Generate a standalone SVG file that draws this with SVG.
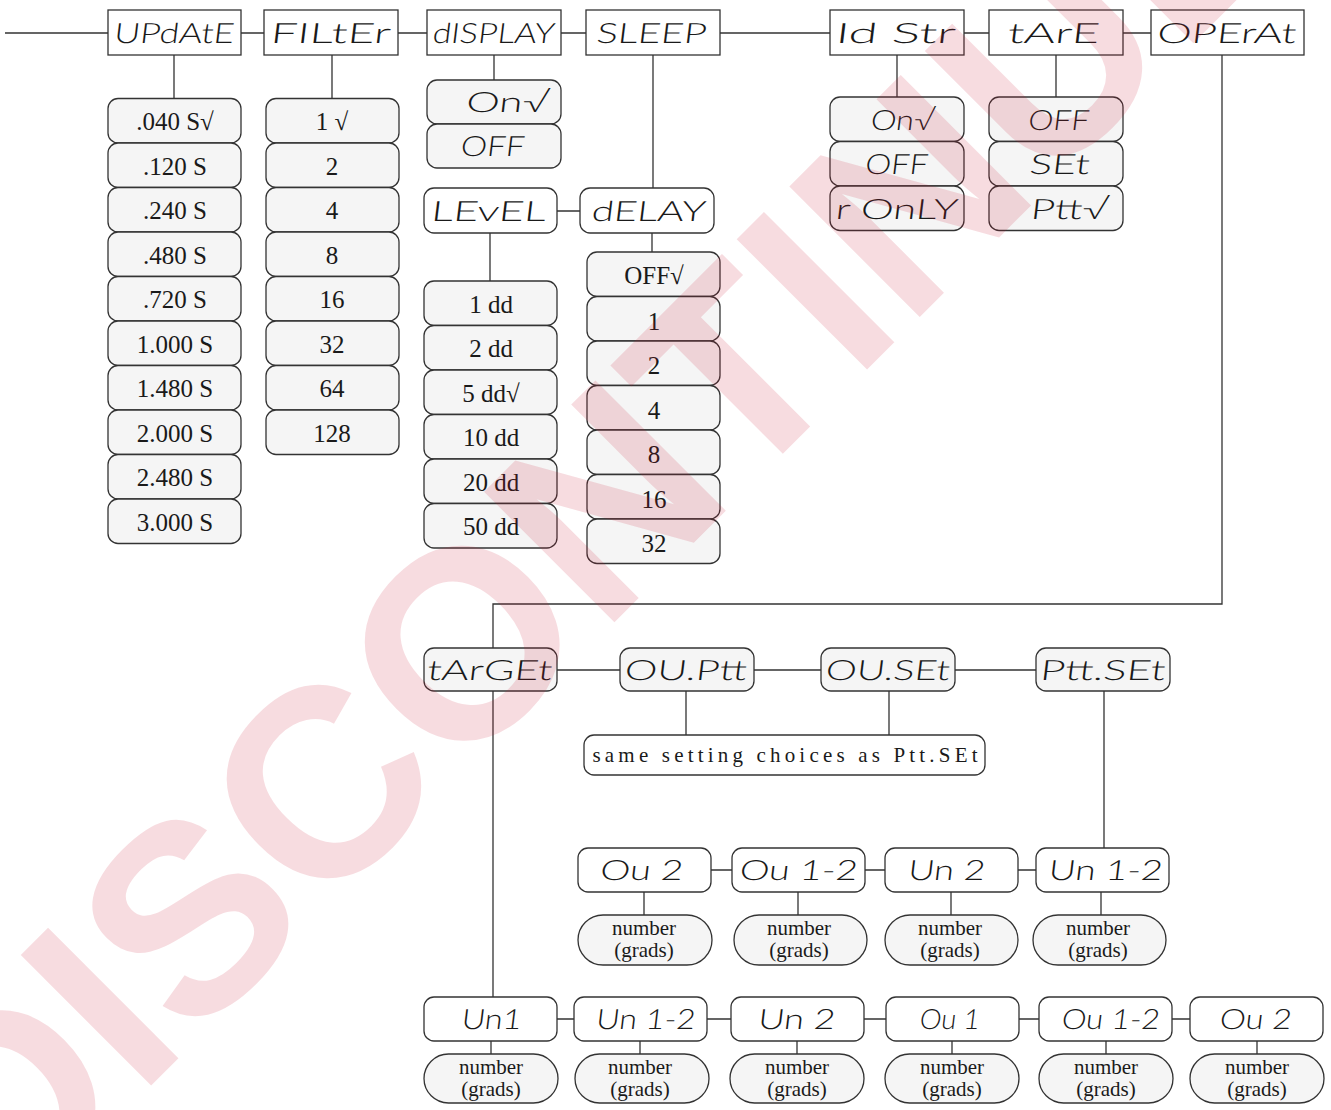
<svg xmlns="http://www.w3.org/2000/svg" width="1331" height="1110" viewBox="0 0 1331 1110">
<style>
.sq{fill:#fff;stroke:#333;stroke-width:1.3}
.w{fill:#fff;stroke:#333;stroke-width:1.3}
.g{fill:#f5f5f5;stroke:#333;stroke-width:1.3}
.c{fill:none;stroke:#333;stroke-width:1.3}
.s{font-family:Lato,"DejaVu Sans",sans-serif;font-weight:300;font-size:28px;fill:#1a1a1a;text-anchor:middle;transform-box:fill-box;transform-origin:center;transform:skewX(-7deg)}
.t{font-family:"Liberation Serif",serif;font-size:25px;fill:#1a1a1a;text-anchor:middle}
.n{font-family:"Liberation Serif",serif;font-size:21px;fill:#1a1a1a;text-anchor:middle}
.wm{font-family:"Liberation Sans",Arial,sans-serif;font-weight:bold;font-size:268px;fill:rgb(200,20,50);fill-opacity:0.15}
</style>
<g id="connectors">
<path class="c" d="M5 33H108M241 33H264M398 33H427M561 33H586M720 33H830M964 33H989M1123 33H1151"/>
<path class="c" d="M174 55V98.5M332 55V98.5M494 55V80M653 55V188M557 211H580M490 233V281M652 233V252M897 55V97M1056 55V97"/>
<path class="c" d="M1222 55V604H493V648M557 670H620M754 670H821M955 670H1036M686 691V735M889 691V735M1104 691V848M493 691V997"/>
<path class="c" d="M711 870H732M865 870H885M1018 870H1036M644 892V915M798 892V915M951 892V915M1101 892V915"/>
<path class="c" d="M557 1019H574M707 1019H731M864 1019H886M1019 1019H1039M1172 1019H1190M491 1041V1054M640 1041V1054M797 1041V1054M952 1041V1054M1106 1041V1054M1257 1041V1054"/>
</g>
<g id="top">
<g id="n-update"><rect class="sq" x="108" y="10" width="133" height="45"/><text class="s" x="174.5" y="43" textLength="120" lengthAdjust="spacingAndGlyphs">UPdAtE</text></g>
<g id="n-filter"><rect class="sq" x="264" y="10" width="134" height="45"/><text class="s" x="331" y="43" textLength="120" lengthAdjust="spacingAndGlyphs">FILtEr</text></g>
<g id="n-display"><rect class="sq" x="427" y="10" width="134" height="45"/><text class="s" x="494" y="43" textLength="122" lengthAdjust="spacingAndGlyphs">dISPLAY</text></g>
<g id="n-sleep"><rect class="sq" x="586" y="10" width="134" height="45"/><text class="s" x="652" y="43" textLength="110" lengthAdjust="spacingAndGlyphs">SLEEP</text></g>
<g id="n-idstr"><rect class="sq" x="830" y="10" width="134" height="45"/><text class="s" x="896" y="43" textLength="120" lengthAdjust="spacingAndGlyphs">Id Str</text></g>
<g id="n-tare"><rect class="sq" x="989" y="10" width="134" height="45"/><text class="s" x="1054" y="43" textLength="92" lengthAdjust="spacingAndGlyphs">tArE</text></g>
<g id="n-operat"><rect class="sq" x="1151" y="10" width="153" height="45"/><text class="s" x="1227" y="43" textLength="139" lengthAdjust="spacingAndGlyphs">OPErAt</text></g>
</g>
<g id="update-opts">
<rect class="g" x="108" y="98.5" width="133" height="44.5" rx="10"/><text class="t" x="175" y="130">.040 S√</text>
<rect class="g" x="108" y="143" width="133" height="44.5" rx="10"/><text class="t" x="175" y="175">.120 S</text>
<rect class="g" x="108" y="187.5" width="133" height="44.5" rx="10"/><text class="t" x="175" y="219">.240 S</text>
<rect class="g" x="108" y="232" width="133" height="44.5" rx="10"/><text class="t" x="175" y="264">.480 S</text>
<rect class="g" x="108" y="276.5" width="133" height="44.5" rx="10"/><text class="t" x="175" y="308">.720 S</text>
<rect class="g" x="108" y="321" width="133" height="44.5" rx="10"/><text class="t" x="175" y="353">1.000 S</text>
<rect class="g" x="108" y="365.5" width="133" height="44.5" rx="10"/><text class="t" x="175" y="397">1.480 S</text>
<rect class="g" x="108" y="410" width="133" height="44.5" rx="10"/><text class="t" x="175" y="442">2.000 S</text>
<rect class="g" x="108" y="454.5" width="133" height="44.5" rx="10"/><text class="t" x="175" y="486">2.480 S</text>
<rect class="g" x="108" y="499" width="133" height="44.5" rx="10"/><text class="t" x="175" y="531">3.000 S</text>
</g>
<g id="filter-opts">
<rect class="g" x="266" y="98.5" width="133" height="44.5" rx="10"/><text class="t" x="332" y="130">1 √</text>
<rect class="g" x="266" y="143" width="133" height="44.5" rx="10"/><text class="t" x="332" y="175">2</text>
<rect class="g" x="266" y="187.5" width="133" height="44.5" rx="10"/><text class="t" x="332" y="219">4</text>
<rect class="g" x="266" y="232" width="133" height="44.5" rx="10"/><text class="t" x="332" y="264">8</text>
<rect class="g" x="266" y="276.5" width="133" height="44.5" rx="10"/><text class="t" x="332" y="308">16</text>
<rect class="g" x="266" y="321" width="133" height="44.5" rx="10"/><text class="t" x="332" y="353">32</text>
<rect class="g" x="266" y="365.5" width="133" height="44.5" rx="10"/><text class="t" x="332" y="397">64</text>
<rect class="g" x="266" y="410" width="133" height="44.5" rx="10"/><text class="t" x="332" y="442">128</text>
</g>
<g id="display-opts">
<rect class="g" x="427" y="80" width="134" height="44" rx="10"/><text class="s" x="508" y="112" textLength="83" lengthAdjust="spacingAndGlyphs">On√</text>
<rect class="g" x="427" y="124" width="134" height="44" rx="10"/><text class="s" x="493" y="156" textLength="64" lengthAdjust="spacingAndGlyphs">OFF</text>
</g>
<g id="n-level"><rect class="w" x="424" y="188" width="133" height="45" rx="10"/><text class="s" x="489" y="221" textLength="115" lengthAdjust="spacingAndGlyphs">LEvEL</text></g>
<g id="n-delay"><rect class="w" x="580" y="188" width="134" height="45" rx="10"/><text class="s" x="649" y="221" textLength="114" lengthAdjust="spacingAndGlyphs">dELAY</text></g>
<g id="level-opts">
<rect class="g" x="424" y="281" width="133" height="44.5" rx="10"/><text class="t" x="491" y="313">1 dd</text>
<rect class="g" x="424" y="325.5" width="133" height="44.5" rx="10"/><text class="t" x="491" y="357">2 dd</text>
<rect class="g" x="424" y="370" width="133" height="44.5" rx="10"/><text class="t" x="491" y="402">5 dd√</text>
<rect class="g" x="424" y="414.5" width="133" height="44.5" rx="10"/><text class="t" x="491" y="446">10 dd</text>
<rect class="g" x="424" y="459" width="133" height="44.5" rx="10"/><text class="t" x="491" y="491">20 dd</text>
<rect class="g" x="424" y="503.5" width="133" height="44.5" rx="10"/><text class="t" x="491" y="535">50 dd</text>
</g>
<g id="delay-opts">
<rect class="g" x="587" y="252" width="133" height="44.5" rx="10"/><text class="t" x="654" y="284">OFF√</text>
<rect class="g" x="587" y="296.5" width="133" height="44.5" rx="10"/><text class="t" x="654" y="330">1</text>
<rect class="g" x="587" y="341" width="133" height="44.5" rx="10"/><text class="t" x="654" y="374">2</text>
<rect class="g" x="587" y="385.5" width="133" height="44.5" rx="10"/><text class="t" x="654" y="419">4</text>
<rect class="g" x="587" y="430" width="133" height="44.5" rx="10"/><text class="t" x="654" y="463">8</text>
<rect class="g" x="587" y="474.5" width="133" height="44.5" rx="10"/><text class="t" x="654" y="508">16</text>
<rect class="g" x="587" y="519" width="133" height="44.5" rx="10"/><text class="t" x="654" y="552">32</text>
</g>
<g id="idstr-opts">
<rect class="g" x="830" y="97" width="134" height="44.5" rx="10"/><text class="s" x="903" y="130" textLength="64" lengthAdjust="spacingAndGlyphs">On√</text>
<rect class="g" x="830" y="141.5" width="134" height="44.5" rx="10"/><text class="s" x="897" y="174" textLength="63" lengthAdjust="spacingAndGlyphs">OFF</text>
<rect class="g" x="830" y="186" width="134" height="44.5" rx="10"/><text class="s" x="897" y="219" textLength="122" lengthAdjust="spacingAndGlyphs">r OnLY</text>
</g>
<g id="tare-opts">
<rect class="g" x="989" y="97" width="134" height="44.5" rx="10"/><text class="s" x="1059" y="130" textLength="61" lengthAdjust="spacingAndGlyphs">OFF</text>
<rect class="g" x="989" y="141.5" width="134" height="44.5" rx="10"/><text class="s" x="1060" y="174" textLength="60" lengthAdjust="spacingAndGlyphs">SEt</text>
<rect class="g" x="989" y="186" width="134" height="44.5" rx="10"/><text class="s" x="1070" y="219" textLength="78" lengthAdjust="spacingAndGlyphs">Ptt√</text>
</g>
<g id="n-target"><rect class="g" x="424" y="648" width="133" height="43" rx="10"/><text class="s" x="490" y="680" textLength="125" lengthAdjust="spacingAndGlyphs">tArGEt</text></g>
<g id="n-ouptt"><rect class="g" x="620" y="648" width="134" height="43" rx="10"/><text class="s" x="686" y="680" textLength="122" lengthAdjust="spacingAndGlyphs">OU.Ptt</text></g>
<g id="n-ouset"><rect class="g" x="821" y="648" width="134" height="43" rx="10"/><text class="s" x="888" y="680" textLength="124" lengthAdjust="spacingAndGlyphs">OU.SEt</text></g>
<g id="n-pttset"><rect class="g" x="1036" y="648" width="134" height="43" rx="10"/><text class="s" x="1103" y="680" textLength="125" lengthAdjust="spacingAndGlyphs">Ptt.SEt</text></g>
<g id="n-same"><rect class="w" x="584" y="735" width="401" height="40" rx="10"/><text class="n" x="785" y="762" font-size="23" textLength="385" lengthAdjust="spacing">same setting choices as Ptt.SEt</text></g>
<g id="row3">
<g id="n-r3a"><rect class="w" x="578" y="848" width="133" height="44" rx="10"/><text class="s" x="642" y="880" textLength="83" lengthAdjust="spacingAndGlyphs">Ou 2</text></g>
<g id="n-r3b"><rect class="w" x="732" y="848" width="133" height="44" rx="10"/><text class="s" x="799" y="880" textLength="118" lengthAdjust="spacingAndGlyphs">Ou 1-2</text></g>
<g id="n-r3c"><rect class="w" x="885" y="848" width="133" height="44" rx="10"/><text class="s" x="947" y="880" textLength="77" lengthAdjust="spacingAndGlyphs">Un 2</text></g>
<g id="n-r3d"><rect class="w" x="1036" y="848" width="133" height="44" rx="10"/><text class="s" x="1106" y="880" textLength="114" lengthAdjust="spacingAndGlyphs">Un 1-2</text></g>
<rect class="g" x="578" y="915" width="134" height="50" rx="25"/><text class="n" x="644" y="935">number</text><text class="n" x="644" y="957">(grads)</text>
<rect class="g" x="734" y="915" width="133" height="50" rx="25"/><text class="n" x="799" y="935">number</text><text class="n" x="799" y="957">(grads)</text>
<rect class="g" x="885" y="915" width="133" height="50" rx="25"/><text class="n" x="950" y="935">number</text><text class="n" x="950" y="957">(grads)</text>
<rect class="g" x="1033" y="915" width="133" height="50" rx="25"/><text class="n" x="1098" y="935">number</text><text class="n" x="1098" y="957">(grads)</text>
</g>
<g id="row4">
<g id="n-r4a"><rect class="w" x="424" y="997" width="133" height="44" rx="10"/><text class="s" x="492" y="1029" textLength="60" lengthAdjust="spacingAndGlyphs">Un1</text></g>
<g id="n-r4b"><rect class="w" x="574" y="997" width="133" height="44" rx="10"/><text class="s" x="646" y="1029" textLength="99" lengthAdjust="spacingAndGlyphs">Un 1-2</text></g>
<g id="n-r4c"><rect class="w" x="731" y="997" width="133" height="44" rx="10"/><text class="s" x="797" y="1029" textLength="77" lengthAdjust="spacingAndGlyphs">Un 2</text></g>
<g id="n-r4d"><rect class="w" x="886" y="997" width="133" height="44" rx="10"/><text class="s" x="950" y="1029" textLength="60" lengthAdjust="spacingAndGlyphs">Ou 1</text></g>
<g id="n-r4e"><rect class="w" x="1039" y="997" width="133" height="44" rx="10"/><text class="s" x="1111" y="1029" textLength="98" lengthAdjust="spacingAndGlyphs">Ou 1-2</text></g>
<g id="n-r4f"><rect class="w" x="1190" y="997" width="133" height="44" rx="10"/><text class="s" x="1256" y="1029" textLength="72" lengthAdjust="spacingAndGlyphs">Ou 2</text></g>
<rect class="g" x="424" y="1054" width="134" height="49" rx="24.5"/><text class="n" x="491" y="1074">number</text><text class="n" x="491" y="1096">(grads)</text>
<rect class="g" x="575" y="1054" width="134" height="49" rx="24.5"/><text class="n" x="640" y="1074">number</text><text class="n" x="640" y="1096">(grads)</text>
<rect class="g" x="730" y="1054" width="134" height="49" rx="24.5"/><text class="n" x="797" y="1074">number</text><text class="n" x="797" y="1096">(grads)</text>
<rect class="g" x="885" y="1054" width="134" height="49" rx="24.5"/><text class="n" x="952" y="1074">number</text><text class="n" x="952" y="1096">(grads)</text>
<rect class="g" x="1039" y="1054" width="134" height="49" rx="24.5"/><text class="n" x="1106" y="1074">number</text><text class="n" x="1106" y="1096">(grads)</text>
<rect class="g" x="1190" y="1054" width="134" height="49" rx="24.5"/><text class="n" x="1257" y="1074">number</text><text class="n" x="1257" y="1096">(grads)</text>
</g>
<g id="watermark"><text class="wm" transform="translate(1.6 1235) rotate(-45)">DISCONTINUED</text></g>
</svg>
